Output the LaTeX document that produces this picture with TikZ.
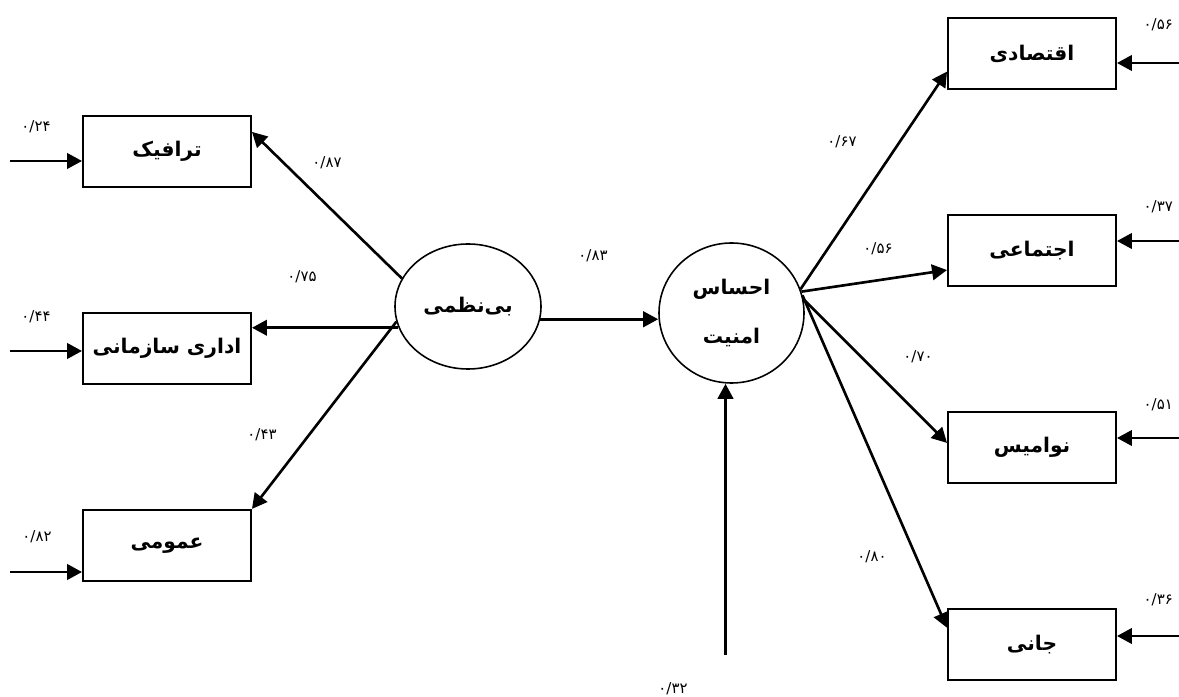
\documentclass[tikz,border=0pt]{standalone}
\usepackage{fontspec}
\newfontfamily\farsi[Script=Arabic]{DejaVu Sans}
\TeXXeTstate=1
\usetikzlibrary{arrows.meta,positioning,shapes.geometric}
\newcommand{\fatext}[1]{\beginR#1\endR}

\begin{document}
\begin{tikzpicture}[
			x=0.2mm, y=-0.2mm,
			node distance=2.48cm,
			box/.style={draw,line width=1.1pt,minimum width=3.36cm,minimum height=1.42cm,font=\farsi\bfseries\fontsize{11.5}{13}\selectfont},
			latent/.style={draw,ellipse,line width=0.9pt,align=center,font=\farsi\bfseries\fontsize{11.5}{13}\selectfont},
			coef/.style={font=\farsi\fontsize{8.5}{10}\selectfont},
			arrow/.style={-{Triangle[length=3mm,width=3.1mm]},line width=1.5pt}
			]
			\useasboundingbox (0,0) rectangle (1179,697);
			\node[box] (traffic) at (167,151.5) {\fatext{ترافیک}};
			\node[box, below=of traffic] (admin) {\fatext{اداری سازمانی}};
			\node[box, below=of admin] (general) {\fatext{عمومی}};
			\node[latent, minimum width=2.92cm, minimum height=2.5cm] (disorder) at (468,306.5) {\fatext{بی^^^^200cنظمی}};
			\node[latent, minimum width=2.9cm, minimum height=2.8cm] (security) at (731.5,313) {\fatext{احساس}\\[15pt]\fatext{امنیت}};
			\node[box] (econ) at (1032,53.5) {\fatext{اقتصادی}};
			\node[box, below=of econ] (social) {\fatext{اجتماعی}};
			\node[box, below=of social] (honor) {\fatext{نوامیس}};
			\node[box, below=of honor] (life) {\fatext{جانی}};
			\coordinate (traffic-e) at (10,161);
			\coordinate (admin-e) at (10,351);
			\coordinate (general-e) at (10,572);
			\coordinate (econ-e) at (1179,63);
			\coordinate (social-e) at (1179,241);
			\coordinate (honor-e) at (1179,438);
			\coordinate (life-e) at (1179,636);
			\coordinate (security-e) at (725.5,655);
			\draw[arrow] (traffic-e)--(traffic-e -| traffic.west);
			\draw[arrow] (admin-e)--(admin-e -| admin.west);
			\draw[arrow] (general-e)--(general-e -| general.west);
			\draw[arrow] (econ-e)--(econ-e -| econ.east);
			\draw[arrow] (social-e)--(social-e -| social.east);
			\draw[arrow] (honor-e)--(honor-e -| honor.east);
			\draw[arrow] (life-e)--(life-e -| life.east);
			\draw[arrow] (security-e)--(security-e |- security.south);
			\draw[arrow] (disorder.157)--(traffic.13);
			\draw[arrow] (disorder.197)--(disorder.197 -| admin.east);
			\draw[arrow] (disorder.192)--(general.north east);
			\draw[arrow] (disorder.-10)--(disorder.-10 -| security.west);
			\draw[arrow] (security.19)--(econ.192);
			\draw[arrow] (security.17)--(social.193);
			\draw[arrow] (security.11)--(honor.177);
			\draw[arrow] (security.14)--(life.169);
			\node[coef] (c-traffic) at (36,127) {۰/۲۴};
			\node[coef] (c-admin) at (36,317) {۰/۴۴};
			\node[coef] (c-general) at (37,537) {۰/۸۲};
			\node[coef] (l-traffic) at (327,163) {۰/۸۷};
			\node[coef] (l-admin) at (302,277) {۰/۷۵};
			\node[coef] (l-general) at (262,435) {۰/۴۳};
			\node[coef] (l-security) at (593,256) {۰/۸۳};
			\node[coef] (l-econ) at (842,142) {۰/۶۷};
			\node[coef] (l-social) at (878,249) {۰/۵۶};
			\node[coef] (l-honor) at (918,357) {۰/۷۰};
			\node[coef] (l-life) at (872,557) {۰/۸۰};
			\node[coef] (c-security) at (673,689) {۰/۳۲};
			\node[coef, anchor=east] (c-econ) at (1179,25) {۰/۵۶};
			\node[coef, anchor=east] (c-social) at (1179,207) {۰/۳۷};
			\node[coef, anchor=east] (c-honor) at (1179,405) {۰/۵۱};
			\node[coef, anchor=east] (c-life) at (1179,600) {۰/۳۶};
		\end{tikzpicture}
\end{document}
